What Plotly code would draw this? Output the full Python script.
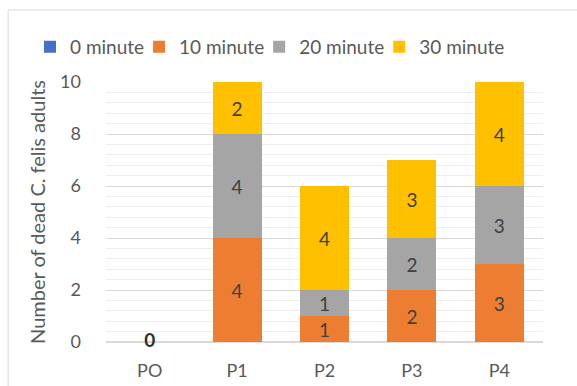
import plotly.graph_objects as go

# Dead C. felis adults per treatment and exposure time
categories = ["PO", "P1", "P2", "P3", "P4"]
min_0 = [0, 0, 0, 0, 0]
min_10 = [0, 4, 1, 2, 3]
min_20 = [0, 4, 1, 2, 3]
min_30 = [0, 2, 4, 3, 4]
y_ticks = [0, 2, 4, 6, 8, 10]

series = [
    ("0 minute", min_0, "#4472C4"),
    ("10 minute", min_10, "#ED7D31"),
    ("20 minute", min_20, "#A5A5A5"),
    ("30 minute", min_30, "#FFC000"),
]

FONT = "Lato, 'Open Sans', sans-serif"

fig = go.Figure()
for name, vals, color in series:
    fig.add_trace(go.Bar(
        x=categories, y=vals, name=name,
        marker=dict(color=color, line=dict(width=0)),
        text=[str(v) if v > 0 else "" for v in vals],
        textposition="inside", insidetextanchor="middle", textangle=0,
        textfont=dict(family=FONT, size=19, color="#404040"),
        width=0.56,
    ))

# zero label for the untreated control
fig.add_trace(go.Scatter(
    x=[categories[0]], y=[min_0[0]], mode="text", text=["<b>0</b>"],
    textposition="middle center", cliponaxis=False,
    textfont=dict(family=FONT, size=19, color="#303030"),
    showlegend=False, hoverinfo="skip",
))

fig.update_layout(
    barmode="stack",
    width=577, height=386,
    margin=dict(l=106, r=34, t=82, b=44, autoexpand=False),
    paper_bgcolor="white", plot_bgcolor="white",
    font=dict(family=FONT, size=18, color="#595959"),
    uniformtext=dict(mode="show", minsize=19),
    legend=dict(orientation="h", x=-0.151, xanchor="left",
                y=1.135, yanchor="middle", bgcolor="rgba(0,0,0,0)",
                font=dict(family=FONT, size=19, color="#595959"),
                itemwidth=30, indentation=-10, tracegroupgap=0, traceorder="normal"),
    xaxis=dict(showgrid=False, zeroline=False, showline=False,
               ticks="", ticklabelstandoff=16,
               tickfont=dict(family=FONT, size=18, color="#595959")),
    yaxis=dict(range=[0, 10], tickvals=y_ticks,
               showgrid=True, gridcolor="#D9D9D9", gridwidth=1,
               minor=dict(dtick=0.4, showgrid=True, gridcolor="#EEEEEE", gridwidth=1),
               zeroline=True, zerolinecolor="#D9D9D9", zerolinewidth=1.5,
               showline=False, ticks="", ticklabelstandoff=24,
               tickfont=dict(family=FONT, size=18, color="#595959")),
    shapes=[dict(type="rect", xref="paper", yref="paper",
                 x0=-0.224, x1=1.09, y0=-0.2, y1=1.277,
                 line=dict(color="#D9D9D9", width=1), layer="below")],
)
fig.update_yaxes(title=dict(text="Number of dead C. felis adults", standoff=9,
                            font=dict(family=FONT, size=20, color="#595959")))

fig.write_html("out.html")
